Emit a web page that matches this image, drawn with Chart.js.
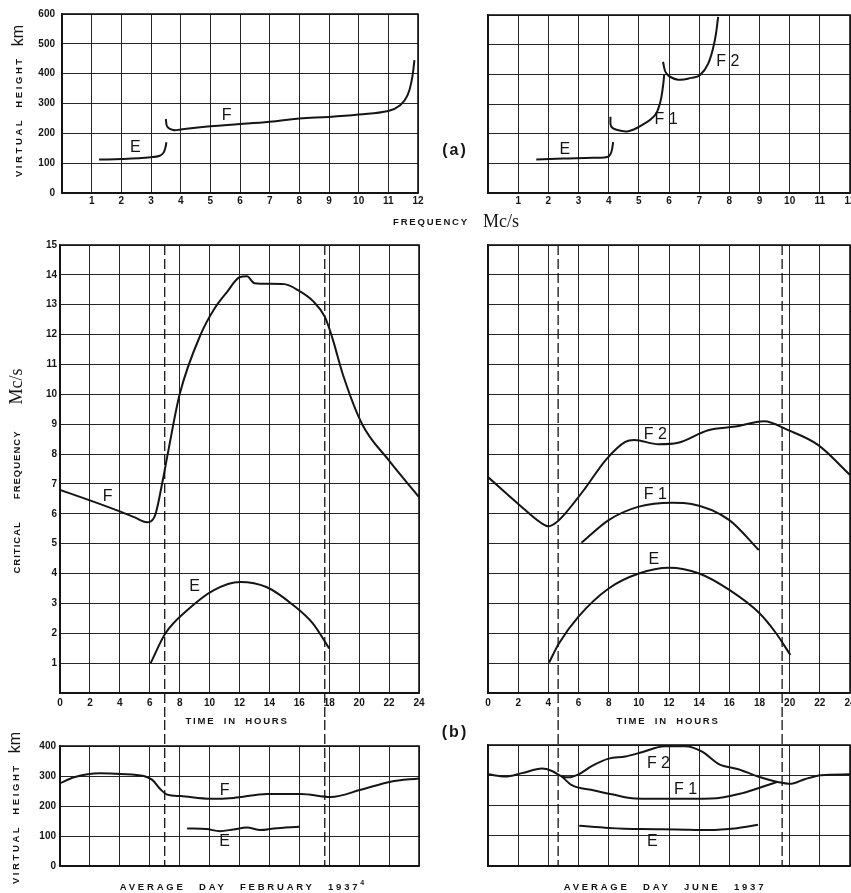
<!DOCTYPE html>
<html>
<head>
<meta charset="utf-8">
<script src="https://cdn.jsdelivr.net/npm/chart.js@4.4.1/dist/chart.umd.min.js"></script>
<style>
  body { margin: 0; background: #fff; }
  #fig { position: relative; width: 851px; height: 893px; overflow: hidden;
         font-family: "Liberation Sans", Arial, sans-serif; color: #151515; }
  canvas { position: absolute; }
  .t { position: absolute; white-space: nowrap; transform: translate(-50%, -50%);
       display: flex; align-items: center; }
  .rot { transform: translate(-50%, -50%) rotate(-90deg); }
  .cap { font-weight: bold; font-size: 9.5px; }
  .unit { font-family: "Liberation Serif", serif; font-size: 18px; }
  .sup { font-size: 7px; position: relative; top: -4px; letter-spacing: 0; }
</style>
</head>
<body>
<div id="fig">
  <canvas id="ionFeb"></canvas>
  <canvas id="ionJun"></canvas>
  <canvas id="fcFeb"></canvas>
  <canvas id="fcJun"></canvas>
  <canvas id="hFeb"></canvas>
  <canvas id="hJun"></canvas>

  <div class="t rot" style="left:18px;top:101px;">
    <span class="cap" style="letter-spacing:2.6px;margin-right:10px;">VIRTUAL</span>
    <span class="cap" style="letter-spacing:2.6px;margin-right:10px;">HEIGHT</span>
    <span style="font-size:16px;">km</span>
  </div>
  <div class="t" style="left:456px;top:221px;">
    <span class="cap" style="letter-spacing:1.8px;margin-right:14px;">FREQUENCY</span>
    <span class="unit">Mc/s</span>
  </div>
  <div class="t" style="left:455px;top:150px;font-weight:bold;font-size:16px;letter-spacing:2px;">(a)</div>
  <div class="t rot" style="left:16px;top:471px;">
    <span class="cap" style="letter-spacing:1px;margin-right:22px;">CRITICAL</span>
    <span class="cap" style="letter-spacing:1px;margin-right:26px;">FREQUENCY</span>
    <span class="unit">Mc/s</span>
  </div>
  <div class="t cap" style="left:237px;top:720px;letter-spacing:1.8px;word-spacing:4px;">TIME IN HOURS</div>
  <div class="t cap" style="left:668px;top:720px;letter-spacing:1.8px;word-spacing:4px;">TIME IN HOURS</div>
  <div class="t" style="left:455px;top:732px;font-weight:bold;font-size:16px;letter-spacing:2px;">(b)</div>
  <div class="t rot" style="left:15px;top:808px;">
    <span class="cap" style="letter-spacing:2.6px;margin-right:10px;">VIRTUAL</span>
    <span class="cap" style="letter-spacing:2.6px;margin-right:10px;">HEIGHT</span>
    <span style="font-size:16px;">km</span>
  </div>
  <div class="t cap" style="left:242px;top:886px;letter-spacing:2.8px;word-spacing:8px;">AVERAGE DAY FEBRUARY 1937<span class="sup">4</span></div>
  <div class="t cap" style="left:665px;top:886px;letter-spacing:2.8px;word-spacing:8px;">AVERAGE DAY JUNE 1937</div>
</div>

<script>
const INK = '#151515';
const GRID = '#262626';

// (a) virtual height against frequency, February
const febIonE_f = [1.25, 2.0, 3.0, 3.3, 3.42, 3.48, 3.52];
const febIonE_h = [112, 114, 120, 125, 135, 150, 170];
const febIonF_f = [3.5, 3.55, 3.75, 4.0, 5.0, 6.0, 7.0, 8.0, 9.0, 10.0, 11.0, 11.4, 11.65, 11.8, 11.88];
const febIonF_h = [248, 222, 211, 213, 224, 231, 239, 250, 255, 263, 275, 294, 328, 384, 445];

// (a) virtual height against frequency, June
const junIonE_f = [1.6, 2.5, 3.5, 3.98, 4.09, 4.15];
const junIonE_h = [113, 116, 119, 122, 139, 172];
const junIonF1_f = [4.06, 4.08, 4.26, 4.65, 5.09, 5.53, 5.7, 5.8, 5.84];
const junIonF1_h = [257, 225, 213, 208, 228, 262, 302, 359, 398];
const junIonF2_f = [5.8, 5.92, 6.3, 6.75, 7.02, 7.3, 7.52, 7.63];
const junIonF2_h = [442, 402, 382, 388, 397, 436, 515, 594];

// (b) critical frequency against time, February
const febF_t = [0, 2, 4, 5, 5.8, 6.3, 6.9, 7.2, 8.0, 9.4, 10.3, 11.2, 12.0, 12.5, 13.0, 14.0, 15.0, 16.0, 16.9, 17.7, 18.2, 18.9, 20.2, 22, 24];
const febF_fc = [6.8, 6.45, 6.08, 5.88, 5.72, 5.88, 7.2, 8.0, 10.0, 12.0, 12.85, 13.45, 13.92, 13.95, 13.72, 13.7, 13.69, 13.46, 13.13, 12.6, 11.9, 10.68, 9.0, 7.78, 6.56];
const febE_t = [6.05, 7.05, 8.5, 10.26, 12.04, 13.8, 15.6, 16.9, 18.0];
const febE_fc = [0.99, 2.0, 2.77, 3.44, 3.72, 3.55, 2.94, 2.33, 1.49];

// (b) critical frequency against time, June
const junF2_t = [0, 2.1, 3.5, 4.0, 4.5, 5.1, 6.45, 7.8, 9.1, 9.7, 11.3, 12.6, 14.6, 16.4, 18.3, 19.9, 21.9, 24];
const junF2_fc = [7.23, 6.29, 5.7, 5.58, 5.7, 6.0, 6.86, 7.8, 8.41, 8.47, 8.33, 8.38, 8.8, 8.92, 9.1, 8.8, 8.3, 7.3];
const junF1_t = [6.2, 8.0, 10.0, 12.2, 13.5, 16.0, 17.95];
const junF1_fc = [5.03, 5.79, 6.24, 6.37, 6.33, 5.79, 4.79];
const junE_t = [4.05, 4.7, 6.0, 8.0, 10.0, 12.0, 14.0, 16.0, 18.0, 19.1, 20.05];
const junE_fc = [1.02, 1.66, 2.56, 3.5, 4.0, 4.19, 4.0, 3.45, 2.67, 2.0, 1.27];

// (b) virtual height against time
const febFh_t = [0, 0.94, 2.7, 4.05, 5.6, 6.17, 6.73, 7.17, 8.06, 10.07, 11.6, 13.85, 16.1, 18.1, 20.1, 22.1, 24];
const febFh_h = [276, 296, 309, 307, 300, 287, 255, 238, 233, 224, 227, 240, 240, 230, 254, 281, 292];
const febEh_t = [8.5, 9.8, 10.7, 11.6, 12.5, 13.4, 14.3, 16.0];
const febEh_h = [125, 123, 116, 122, 128, 120, 125, 131];
const junF2h_t = [0, 1.15, 2.25, 3.58, 4.24, 4.9, 5.34, 6.0, 6.9, 8.0, 9.1, 10.2, 11.7, 13.07, 14.2, 15.3, 16.6, 17.9, 19.2, 20.1, 21.0, 22.1, 24];
const junF2h_h = [303, 296, 307, 322, 314, 296, 293, 303, 331, 355, 362, 376, 396, 396, 378, 337, 320, 296, 278, 272, 287, 300, 303];
const junF1h_t = [4.9, 5.56, 6.9, 8.2, 9.75, 12.2, 14.8, 16.8, 18.2, 19.2];
const junF1h_h = [296, 267, 251, 237, 223, 222, 223, 240, 262, 278];
const junEh_t = [6.05, 8.0, 10.2, 12.5, 14.6, 16.5, 17.9];
const junEh_h = [133, 126, 122, 121, 119, 125, 136];

// sunrise / sunset hours (dashed lines)
const febSun = [7.0, 17.7];
const junSun = [4.65, 19.5];

const tickFont = { family: 'Liberation Sans', size: 10, weight: 'bold' };

function pts(xs, ys) { return xs.map((x, i) => ({ x: x, y: ys[i] })); }
function curve(xs, ys, mono) {
  return {
    data: pts(xs, ys), borderColor: INK, borderWidth: 2, pointRadius: 0, fill: false,
    tension: mono ? 0 : 0.4, cubicInterpolationMode: mono ? 'monotone' : 'default'
  };
}

const overlay = {
  id: 'overlay',
  afterDatasetsDraw(chart, args, o) {
    const ctx = chart.ctx, a = chart.chartArea, sx = chart.scales.x, sy = chart.scales.y;
    ctx.save();
    ctx.strokeStyle = INK;
    ctx.lineWidth = 1.6;
    ctx.strokeRect(a.left, a.top, a.right - a.left, a.bottom - a.top);
    if (o.dashes) {
      ctx.setLineDash([10, 4]);
      ctx.lineWidth = 1.3;
      o.dashes.forEach(h => {
        const px = sx.getPixelForValue(h);
        ctx.beginPath();
        if (o.dashMode === 'down') { ctx.moveTo(px, a.top); ctx.lineTo(px, chart.height); }
        else { ctx.moveTo(px, 0); ctx.lineTo(px, a.bottom); }
        ctx.stroke();
      });
      ctx.setLineDash([]);
    }
    ctx.fillStyle = INK;
    ctx.font = '16px "Liberation Sans", Arial, sans-serif';
    ctx.textAlign = 'center';
    ctx.textBaseline = 'middle';
    (o.labels || []).forEach(l => {
      ctx.fillText(l.text, sx.getPixelForValue(l.x), sy.getPixelForValue(l.y));
    });
    ctx.restore();
  }
};

function panel(id, box, area, xOpt, yOpt, datasets, ov) {
  const cv = document.getElementById(id);
  cv.style.left = box.x + 'px';
  cv.style.top = box.y + 'px';
  cv.width = box.w;
  cv.height = box.h;
  new Chart(cv, {
    type: 'line',
    data: { datasets: datasets },
    options: {
      responsive: false,
      animation: false,
      events: [],
      layout: { padding: { left: 0, top: area.t - box.y, right: box.x + box.w - area.r, bottom: 0 } },
      plugins: { legend: { display: false }, tooltip: { enabled: false }, overlay: ov },
      scales: {
        x: {
          type: 'linear', min: xOpt.min, max: xOpt.max,
          grid: { color: GRID, lineWidth: 1, drawTicks: false },
          border: { color: INK, width: 1.5 },
          ticks: {
            display: xOpt.labels, stepSize: xOpt.step, autoSkip: false, maxRotation: 0,
            padding: xOpt.pad || 2, font: tickFont, color: INK,
            callback: v => (xOpt.hideZero && v === 0) ? '' : v
          },
          afterFit: s => { s.height = box.y + box.h - area.b; s.paddingLeft = 0; s.paddingRight = 0; }
        },
        y: {
          type: 'linear', min: yOpt.min, max: yOpt.max,
          grid: { color: GRID, lineWidth: 1, drawTicks: false },
          border: { color: INK, width: 1.5 },
          ticks: {
            display: yOpt.labels, stepSize: yOpt.step, autoSkip: false,
            padding: yOpt.pad || 3, font: tickFont, color: INK,
            callback: v => (yOpt.hideZero && v === 0) ? '' : v
          },
          afterFit: s => { s.width = area.l - box.x; s.paddingTop = 0; s.paddingBottom = 0; }
        }
      }
    },
    plugins: [overlay]
  });
}

panel('ionFeb', { x: 0, y: 0, w: 425, h: 212 }, { l: 62, r: 418, t: 14, b: 193 },
  { min: 0, max: 12, step: 1, labels: true, hideZero: true, pad: 2 },
  { min: 0, max: 600, step: 100, labels: true, pad: 7 },
  [curve(febIonE_f, febIonE_h), curve(febIonF_f, febIonF_h)],
  { labels: [{ text: 'E', x: 2.47, y: 153 }, { text: 'F', x: 5.55, y: 260 }] });

panel('ionJun', { x: 425, y: 0, w: 426, h: 212 }, { l: 488, r: 850, t: 15, b: 193 },
  { min: 0, max: 12, step: 1, labels: true, hideZero: true, pad: 2 },
  { min: 0, max: 600, step: 100, labels: false },
  [curve(junIonE_f, junIonE_h), curve(junIonF1_f, junIonF1_h), curve(junIonF2_f, junIonF2_h)],
  { labels: [{ text: 'E', x: 2.55, y: 145 }, { text: 'F 1', x: 5.9, y: 248 }, { text: 'F 2', x: 7.95, y: 442 }] });

panel('fcFeb', { x: 0, y: 236, w: 425, h: 484 }, { l: 60, r: 419, t: 245, b: 693 },
  { min: 0, max: 24, step: 2, labels: true, pad: 4 },
  { min: 0, max: 15, step: 1, labels: true, hideZero: true, pad: 3 },
  [curve(febF_t, febF_fc, true), curve(febE_t, febE_fc, true)],
  { dashes: febSun, dashMode: 'down', labels: [{ text: 'F', x: 3.19, y: 6.56 }, { text: 'E', x: 9.0, y: 3.56 }] });

panel('fcJun', { x: 425, y: 236, w: 426, h: 484 }, { l: 488, r: 850, t: 245, b: 693 },
  { min: 0, max: 24, step: 2, labels: true, pad: 4 },
  { min: 0, max: 15, step: 1, labels: false },
  [curve(junF2_t, junF2_fc, true), curve(junF1_t, junF1_fc, true), curve(junE_t, junE_fc, true)],
  { dashes: junSun, dashMode: 'down', labels: [{ text: 'F 2', x: 11.1, y: 8.64 }, { text: 'F 1', x: 11.1, y: 6.63 }, { text: 'E', x: 11.0, y: 4.48 }] });

panel('hFeb', { x: 0, y: 720, w: 425, h: 173 }, { l: 60, r: 419, t: 746, b: 866 },
  { min: 0, max: 24, step: 2, labels: false },
  { min: 0, max: 400, step: 100, labels: true, pad: 4 },
  [curve(febFh_t, febFh_h, true), curve(febEh_t, febEh_h, true)],
  { dashes: febSun, dashMode: 'up', labels: [{ text: 'F', x: 11.0, y: 251 }, { text: 'E', x: 11.0, y: 81 }] });

panel('hJun', { x: 425, y: 720, w: 426, h: 173 }, { l: 488, r: 850, t: 745, b: 866 },
  { min: 0, max: 24, step: 2, labels: false },
  { min: 0, max: 400, step: 100, labels: false },
  [curve(junF2h_t, junF2h_h, true), curve(junF1h_t, junF1h_h, true), curve(junEh_t, junEh_h, true)],
  { dashes: junSun, dashMode: 'up', labels: [{ text: 'F 2', x: 11.3, y: 340 }, { text: 'F 1', x: 13.1, y: 251 }, { text: 'E', x: 10.9, y: 80 }] });
</script>
</body>
</html>
